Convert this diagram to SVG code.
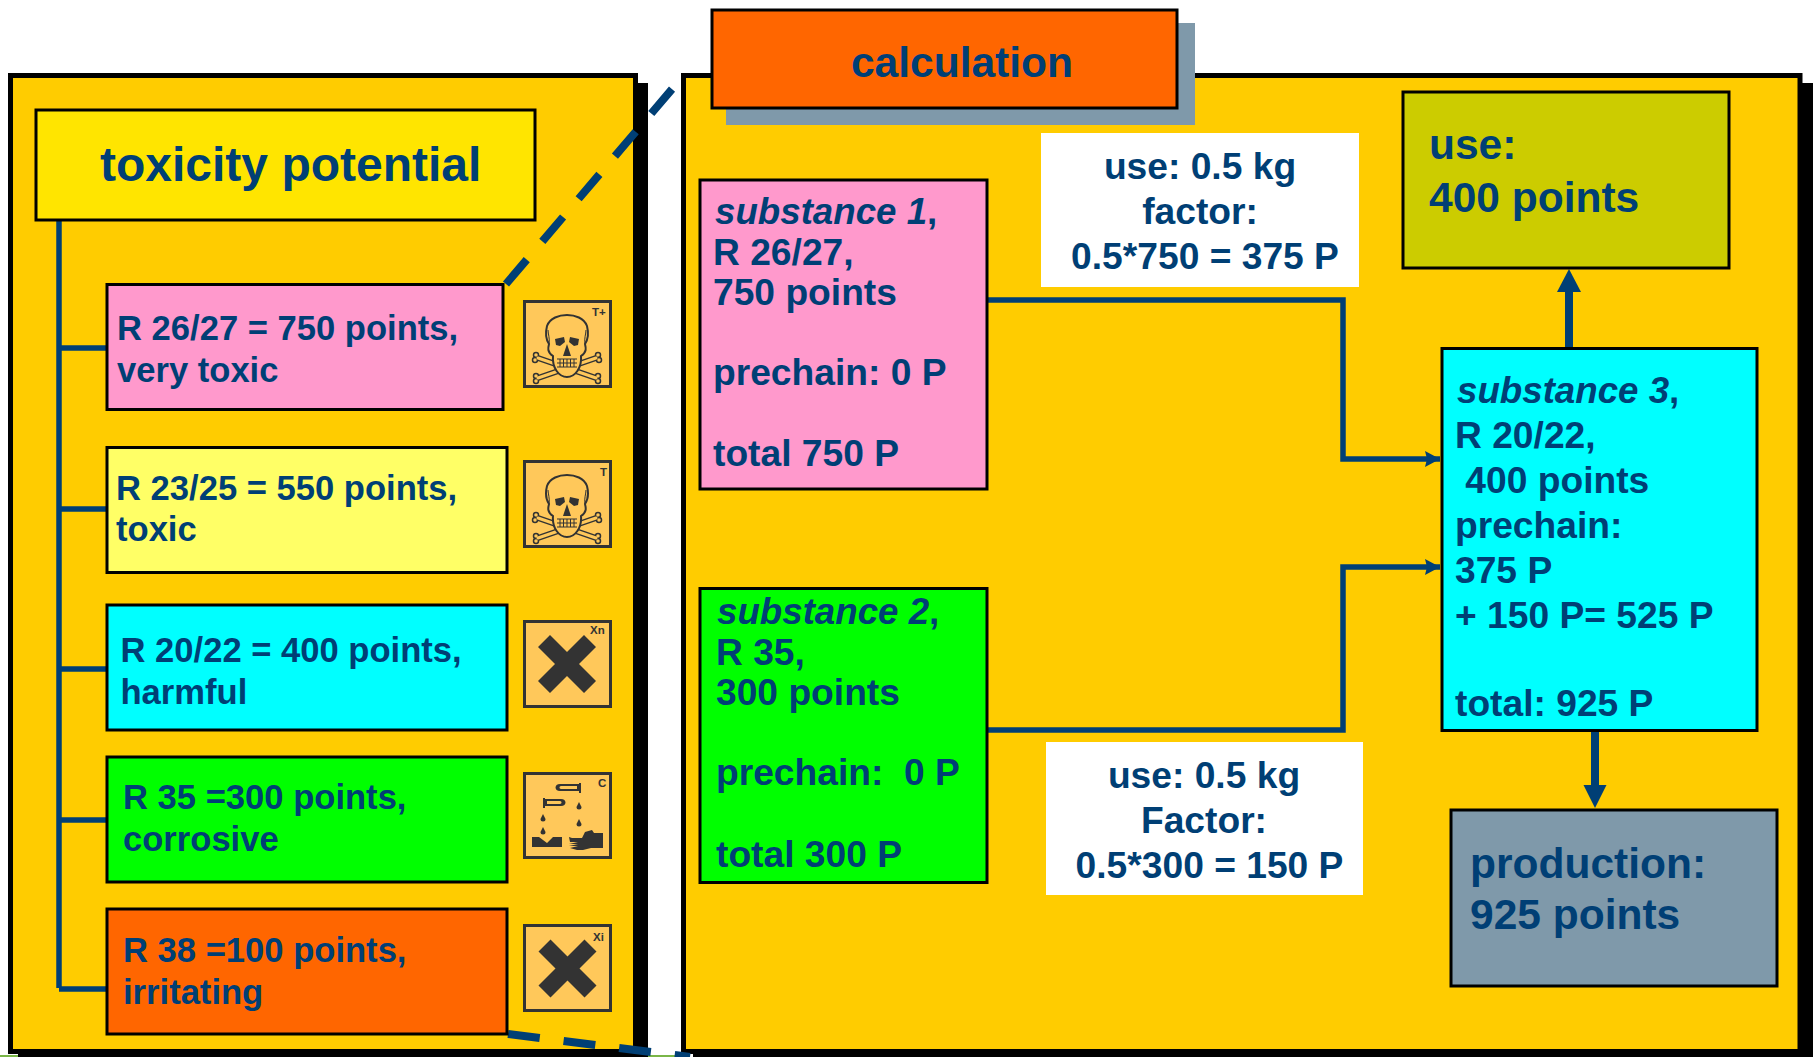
<svg xmlns="http://www.w3.org/2000/svg" width="1818" height="1057" viewBox="0 0 1818 1057">
<style>
text{font-family:"Liberation Sans",Arial,sans-serif;font-weight:700;fill:#003f75}
.b{stroke:#000;stroke-width:3}
.t1{font-size:34.6px}.t2{font-size:37.2px}.t3{font-size:42.5px}.t4{font-size:48px}
.i{font-style:italic;font-size:36.7px}
.ic{fill:#ffc85a;stroke:#333;stroke-width:3}
.il{fill:#333;font-size:11.5px}
.cn{fill:none;stroke:#003f75;stroke-width:5.500}
.dash{fill:none;stroke:#003f75;stroke-width:8;stroke-dasharray:32 24}
.thick{fill:none;stroke:#003f75;stroke-width:8}
.hd{fill:#003f75}
.d{fill:#333}
.bo{fill:none;stroke:#333;stroke-width:6;stroke-linecap:round}
.bi{fill:none;stroke:#ffc85a;stroke-width:3;stroke-linecap:round}
.kn{fill:#ffc85a;stroke:#333;stroke-width:1.500}
.cr{fill:#ffc85a;stroke:#333;stroke-width:2}
.th{fill:none;stroke:#333;stroke-width:1}
</style>
<defs>
<marker id="a" markerUnits="userSpaceOnUse" markerWidth="16" markerHeight="16" refX="15" refY="8" orient="auto"><path d="M0 0L15 8L0 16L2 8Z" fill="#003f75"/></marker>
<g id="skull">
<path class="bo" d="M-29 10L29 30M29 10L-29 30"/>
<circle class="kn" cx="-31" cy="7" r="2.500"/><circle class="kn" cx="-32" cy="12" r="2.500"/>
<circle class="kn" cx="31" cy="7" r="2.500"/><circle class="kn" cx="32" cy="12" r="2.500"/>
<circle class="kn" cx="-31" cy="28" r="2.500"/><circle class="kn" cx="-31" cy="33" r="2.500"/>
<circle class="kn" cx="31" cy="28" r="2.500"/><circle class="kn" cx="31" cy="33" r="2.500"/>
<path class="bi" d="M-29 10L29 30M29 10L-29 30"/>
<path class="cr" d="M-14 8C-20 4-19 0-18 -4C-22 -10-21 -18-20 -22C-17 -30-8 -33 0 -33C8 -33 17 -30 20 -22C21 -18 22 -10 18 -4C19 0 20 4 14 8C15 20 8 29 0 29C-8 29-15 20-14 8Z"/>
<path class="th" d="M-18 -4C-17 -10-19 -14-19 -18M18 -4C17 -10 19 -14 19 -18"/>
<path class="d" d="M-12 -9L-3 -11L-2 -6L-7 -2L-11 -3ZM12 -9L3 -11L2 -6L7 -2L11 -3ZM0 -4L4 8L-4 8Z"/>
<path class="th" d="M-10 11H10M-10 15H10M-10 19H10M-7 11V19M-3.500 11V19M0 11V19M3.500 11V19M7 11V19"/>
</g>
<path id="x" class="d" d="M-17 -29L0 -12L17 -29L29 -17L12 0L29 17L17 29L0 12L-17 29L-29 17L-12 0L-29 -17Z"/>
<path id="drop" class="d" d="M0 0L2.500 5A2.500 2.500 0 0 1-2.500 5Z"/>
</defs>
<rect width="1818" height="1057" fill="#fff"/>
<rect x="0" y="1055" width="18" height="2" fill="#7ab648"/>
<rect x="648" y="1055" width="42" height="2" fill="#7ab648"/>
<g id="left-panel">
<rect x="18" y="83" width="630" height="974" fill="#000"/>
<rect x="10.500" y="75.500" width="625" height="976" fill="#fc0" stroke="#000" stroke-width="5"/>
</g>
<g id="right-panel">
<rect x="693" y="83" width="1120" height="974" fill="#000"/>
<rect x="683.500" y="75.500" width="1116.500" height="976" fill="#fc0" stroke="#000" stroke-width="5"/>
</g>
<g id="calc">
<rect x="726" y="23" width="469" height="102" fill="#7f99aa"/>
<rect x="712" y="10" width="465" height="98" fill="#f60" class="b"/>
<text class="t3" x="962" y="77" text-anchor="middle">calculation</text>
</g>
<g id="connectors">
<path class="cn" d="M59 220V988M59 348H106M59 509H106M59 669H106M59 820H106M59 989H106"/>
<path class="dash" d="M506 284L673 88M508 1034L690 1057"/>
<path class="cn" marker-end="url(#a)" d="M987 300H1343V459H1440"/>
<path class="cn" marker-end="url(#a)" d="M987 730H1343V567H1440"/>
<path class="thick" d="M1569 348V290"/>
<path class="hd" d="M1569 269L1581 292H1557Z"/>
<path class="thick" d="M1595 730V787"/>
<path class="hd" d="M1595 808L1583.500 785H1606.500Z"/>
</g>
<g id="toxicity"><rect x="36" y="110" width="499" height="110" fill="#ffe500" class="b"/><text class="t4" x="100" y="181">toxicity potential</text></g>
<g id="r26"><rect x="107" y="284.500" width="396" height="125" fill="#f9c" class="b"/><text class="t1" x="117" y="340">R 26/27 = 750 points,</text><text class="t1" x="117" y="382">very toxic</text></g>
<g id="r23"><rect x="107" y="447.500" width="400" height="125" fill="#ff6" class="b"/><text class="t1" x="116" y="500">R 23/25 = 550 points,</text><text class="t1" x="116" y="541">toxic</text></g>
<g id="r20"><rect x="107" y="605" width="400" height="125" fill="#0ff" class="b"/><text class="t1" x="120.500" y="662">R 20/22 = 400 points,</text><text class="t1" x="120.500" y="704">harmful</text></g>
<g id="r35"><rect x="107" y="757" width="400" height="125" fill="#0f0" class="b"/><text class="t1" x="123" y="809">R 35 =300 points,</text><text class="t1" x="123" y="851">corrosive</text></g>
<g id="r38"><rect x="107" y="909" width="400" height="125" fill="#f60" class="b"/><text class="t1" x="123" y="962">R 38 =100 points,</text><text class="t1" x="123" y="1004">irritating</text></g>
<g id="icon1"><rect class="ic" x="524.500" y="301.500" width="86" height="85"/><use href="#skull" x="567" y="348"/><text class="il" x="592" y="316">T+</text></g>
<g id="icon2"><rect class="ic" x="524.500" y="461.500" width="86" height="85"/><use href="#skull" x="567" y="508"/><text class="il" x="600" y="476">T</text></g>
<g id="icon3"><rect class="ic" x="524.500" y="621.500" width="86" height="85"/><use href="#x" x="567" y="664"/><text class="il" x="590" y="634">Xn</text></g>
<g id="icon4"><rect class="ic" x="524.500" y="773.500" width="86" height="84"/>
<path class="d" d="M532 837H539L547 843L553 837H562V847H532Z"/>
<path class="d" d="M569 837L572 838H582L585 832L592 830L594 833H603V848H591L583 850H577L570 848L578 846H569L578 844H569L578 842H570Z"/>
<path class="d" fill-rule="evenodd" d="M581 783V793H579V791H560C554 791 554 784 560 784H579V783ZM577 786H561C559 786 559 789 561 789H577ZM543 798V808H545V806H561C567 806 567 799 561 799H545V798ZM547 801H560C562 801 562 804 560 804H547Z"/>
<use href="#drop" x="579" y="802"/><use href="#drop" x="579" y="819"/><use href="#drop" x="543" y="814"/><use href="#drop" x="543" y="827"/>
<text class="il" x="598" y="787">C</text></g>
<g id="icon5"><rect class="ic" x="524.500" y="925.500" width="86" height="85"/><use href="#x" x="567.500" y="968.500"/><text class="il" x="593" y="941">Xi</text></g>
<g id="s1"><rect x="700" y="180" width="287" height="309" fill="#f9c" class="b"/><text class="t2 i" x="715" y="224">substance 1<tspan font-style="normal">,</tspan></text><text class="t2" x="713" y="265">R 26/27,</text><text class="t2" x="713" y="305">750 points</text><text class="t2" x="713" y="385">prechain: 0 P</text><text class="t2" x="713" y="466">total 750 P</text></g>
<g id="s2"><rect x="700" y="588.500" width="287" height="294" fill="#0f0" class="b"/><text class="t2 i" x="717" y="624">substance 2<tspan font-style="normal">,</tspan></text><text class="t2" x="716" y="665">R 35,</text><text class="t2" x="716" y="705">300 points</text><text class="t2" x="716" y="785" xml:space="preserve">prechain:  0 P</text><text class="t2" x="716" y="867">total 300 P</text></g>
<g id="w1"><rect x="1041" y="133" width="318" height="154" fill="#fff"/><text class="t2" x="1200" y="179" text-anchor="middle">use: 0.5 kg</text><text class="t2" x="1200" y="224" text-anchor="middle">factor:</text><text class="t2" x="1205" y="269" text-anchor="middle">0.5*750 = 375 P</text></g>
<g id="w2"><rect x="1046" y="742" width="317" height="153" fill="#fff"/><text class="t2" x="1204" y="788" text-anchor="middle">use: 0.5 kg</text><text class="t2" x="1204" y="833" text-anchor="middle">Factor:</text><text class="t2" x="1209.500" y="878" text-anchor="middle">0.5*300 = 150 P</text></g>
<g id="use"><rect x="1403" y="92" width="326" height="176" fill="#cc0" class="b"/><text class="t3" x="1429" y="159">use:</text><text class="t3" x="1429" y="212">400 points</text></g>
<g id="s3"><rect x="1442" y="348.500" width="315" height="382" fill="#0ff" class="b"/><text class="t2 i" x="1457" y="403">substance 3<tspan font-style="normal">,</tspan></text><text class="t2" x="1455" y="448">R 20/22,</text><text class="t2" x="1455" y="493" xml:space="preserve"> 400 points</text><text class="t2" x="1455" y="538">prechain:</text><text class="t2" x="1455" y="583">375 P</text><text class="t2" x="1455" y="628">+ 150 P= 525 P</text><text class="t2" x="1455" y="716">total: 925 P</text></g>
<g id="prod"><rect x="1451" y="810" width="326" height="176" fill="#7f99aa" class="b"/><text class="t3" x="1470" y="878">production:</text><text class="t3" x="1470" y="929">925 points</text></g>
</svg>
